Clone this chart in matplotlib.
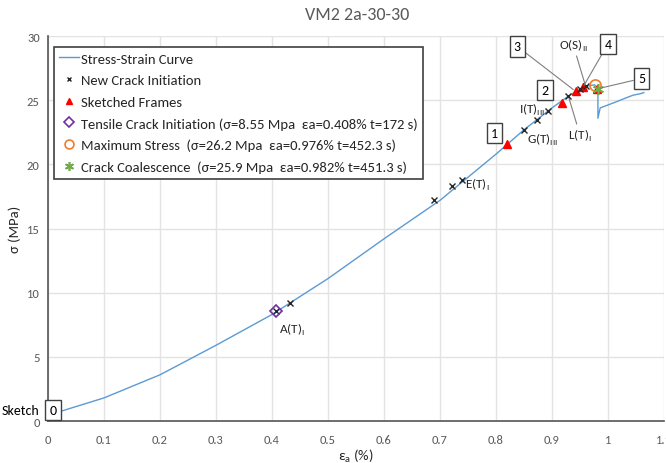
import matplotlib.pyplot as plt

plt.rcParams['font.family'] = ['Carlito', 'Lato', 'DejaVu Sans']
plt.rcParams['mathtext.fontset'] = 'custom'
plt.rcParams['mathtext.rm'] = 'Carlito'

# stress-strain curve
curve_x = [0.0, 0.026, 0.1, 0.2, 0.3, 0.4, 0.5, 0.6, 0.7, 0.8, 0.85, 0.9, 0.93,
           0.96, 0.976, 0.982, 0.982, 0.986, 0.998, 1.016, 1.033, 1.045, 1.057, 1.064]
curve_y = [0.5, 0.8, 1.8, 3.6, 5.9, 8.3, 11.1, 14.2, 17.2, 20.8, 22.7, 24.4, 25.35,
           26.1, 26.2, 25.9, 23.6, 24.4, 24.6, 24.9, 25.2, 25.4, 25.5, 25.6]

crack_x = [0.408, 0.432, 0.689, 0.721, 0.739, 0.850, 0.874, 0.892, 0.929, 0.950, 0.960]
crack_y = [8.55, 9.17, 17.2, 18.3, 18.8, 22.7, 23.5, 24.2, 25.35, 25.85, 26.1]

frame_x = [0.819, 0.917, 0.942, 0.955, 0.980]
frame_y = [21.6, 24.8, 25.7, 26.0, 25.9]

tensile = (0.408, 8.55)
max_stress = (0.976, 26.2)
coalescence = (0.982, 25.9)

fig = plt.figure(figsize=(6.66, 4.64), dpi=100)
ax = fig.add_axes([0.072, 0.0905, 0.925, 0.8295])

ax.plot(curve_x, curve_y, color='#5B9BD5', lw=1, label='Stress-Strain Curve', zorder=3)
ax.plot(crack_x, crack_y, 'x', color='#262626', ms=4, mew=1, label='New Crack Initiation', zorder=5)
ax.plot(frame_x, frame_y, '^', color='#FF0000', ms=6, label='Sketched Frames', zorder=4)
ax.plot(*tensile, 'D', mfc='none', mec='#7030A0', ms=6, mew=1.2,
        label='Tensile Crack Initiation (σ=8.55 Mpa  εa=0.408% t=172 s)', zorder=6)
ax.plot(*max_stress, 'o', mfc='none', mec='#ED7D31', ms=8, mew=1.2,
        label='Maximum Stress  (σ=26.2 Mpa  εa=0.976% t=452.3 s)', zorder=6)
ax.plot(*coalescence, marker=(6, 2, 0), color='#70AD47', ms=8, mew=1.2, ls='none',
        label='Crack Coalescence  (σ=25.9 Mpa  εa=0.982% t=451.3 s)', zorder=6)

ax.set_xlim(0, 1.1)
ax.set_ylim(0, 30)
ax.set_xticks([0, 0.1, 0.2, 0.3, 0.4, 0.5, 0.6, 0.7, 0.8, 0.9, 1.0, 1.1])
ax.set_xticklabels(['0', '0.1', '0.2', '0.3', '0.4', '0.5', '0.6', '0.7', '0.8', '0.9', '1', '1.1'])
ax.set_yticks([0, 5, 10, 15, 20, 25, 30])
ax.tick_params(length=0, labelsize=9, labelcolor='#595959')
ax.tick_params(axis='x', pad=9)
ax.tick_params(axis='y', pad=6)
ax.grid(color='#E3E3E3', lw=1)
ax.set_axisbelow(True)
for s in ['top', 'right']:
    ax.spines[s].set_visible(False)
for s in ['left', 'bottom']:
    ax.spines[s].set_color('#555555')
    ax.spines[s].set_linewidth(1.2)

ax.set_xlabel('ε$_\\mathrm{a}$ (%)', fontsize=10.5, color='#262626', labelpad=1)
ax.set_ylabel('σ (MPa)', fontsize=10.5, color='#262626', labelpad=4)
fig.suptitle('VM2 2a-30-30', x=0.536, y=0.985, fontsize=13, color='#595959')

box = dict(boxstyle='square,pad=0.3', fc='white', ec='#404040', lw=1)
lead = dict(arrowstyle='-', color='#7F7F7F', lw=0.8, shrinkA=0, shrinkB=2)

ax.text(0.009, 0.86, '0', fontsize=10, ha='center', va='center', bbox=box, zorder=7)
ax.text(-0.016, 0.86, 'Sketch', fontsize=10, ha='right', va='center', clip_on=False)
ax.text(0.797, 22.45, '1', fontsize=10, ha='center', va='center', bbox=box, zorder=7)
ax.text(0.8875, 25.8, '2', fontsize=10, ha='center', va='center', bbox=box, zorder=7)
ax.annotate('3', xy=(frame_x[2], frame_y[2]), xytext=(0.838, 29.2), fontsize=10,
            ha='center', va='center', bbox=box, arrowprops=lead, zorder=7)
ax.annotate('4', xy=(frame_x[3], frame_y[3]), xytext=(1.0, 29.4), fontsize=10,
            ha='center', va='center', bbox=box, arrowprops=lead, zorder=7)
ax.annotate('5', xy=coalescence, xytext=(1.06, 26.7), fontsize=10,
            ha='center', va='center', bbox=box, arrowprops=lead, zorder=7)
ax.annotate('O(S)$_\\mathrm{II}$', xy=(crack_x[10], crack_y[10]), xytext=(0.938, 29.3),
            fontsize=9.5, ha='center', va='center', arrowprops=lead, color='#262626')
ax.annotate('L(T)$_\\mathrm{I}$', xy=(crack_x[8], crack_y[8]), xytext=(0.95, 22.3),
            fontsize=9.5, ha='center', va='center', arrowprops=lead, color='#262626')
ax.text(0.436, 7.2, 'A(T)$_\\mathrm{I}$', fontsize=9.5, ha='center', va='center', color='#262626')
ax.text(0.744, 18.5, 'E(T)$_\\mathrm{I}$', fontsize=9.5, ha='left', va='center', color='#262626')
ax.text(0.855, 22.0, 'G(T)$_\\mathrm{III}$', fontsize=9.5, ha='left', va='center', color='#262626')
ax.text(0.888, 24.3, 'I(T)$_\\mathrm{III}$', fontsize=9.5, ha='right', va='center', color='#262626')

leg = ax.legend(loc='upper left', bbox_to_anchor=(0.081, 0.897), bbox_transform=fig.transFigure,
                fontsize=10.5, frameon=True, fancybox=False, handlelength=1.35,
                handletextpad=0.1, labelspacing=0.64, borderpad=0.38, borderaxespad=0,
                framealpha=1, markerscale=0.8)
leg.get_frame().set_edgecolor('#404040')
leg.get_frame().set_linewidth(1.2)
for t in leg.get_texts():
    t.set_color('#262626')

fig.savefig('out.png', dpi=100)
